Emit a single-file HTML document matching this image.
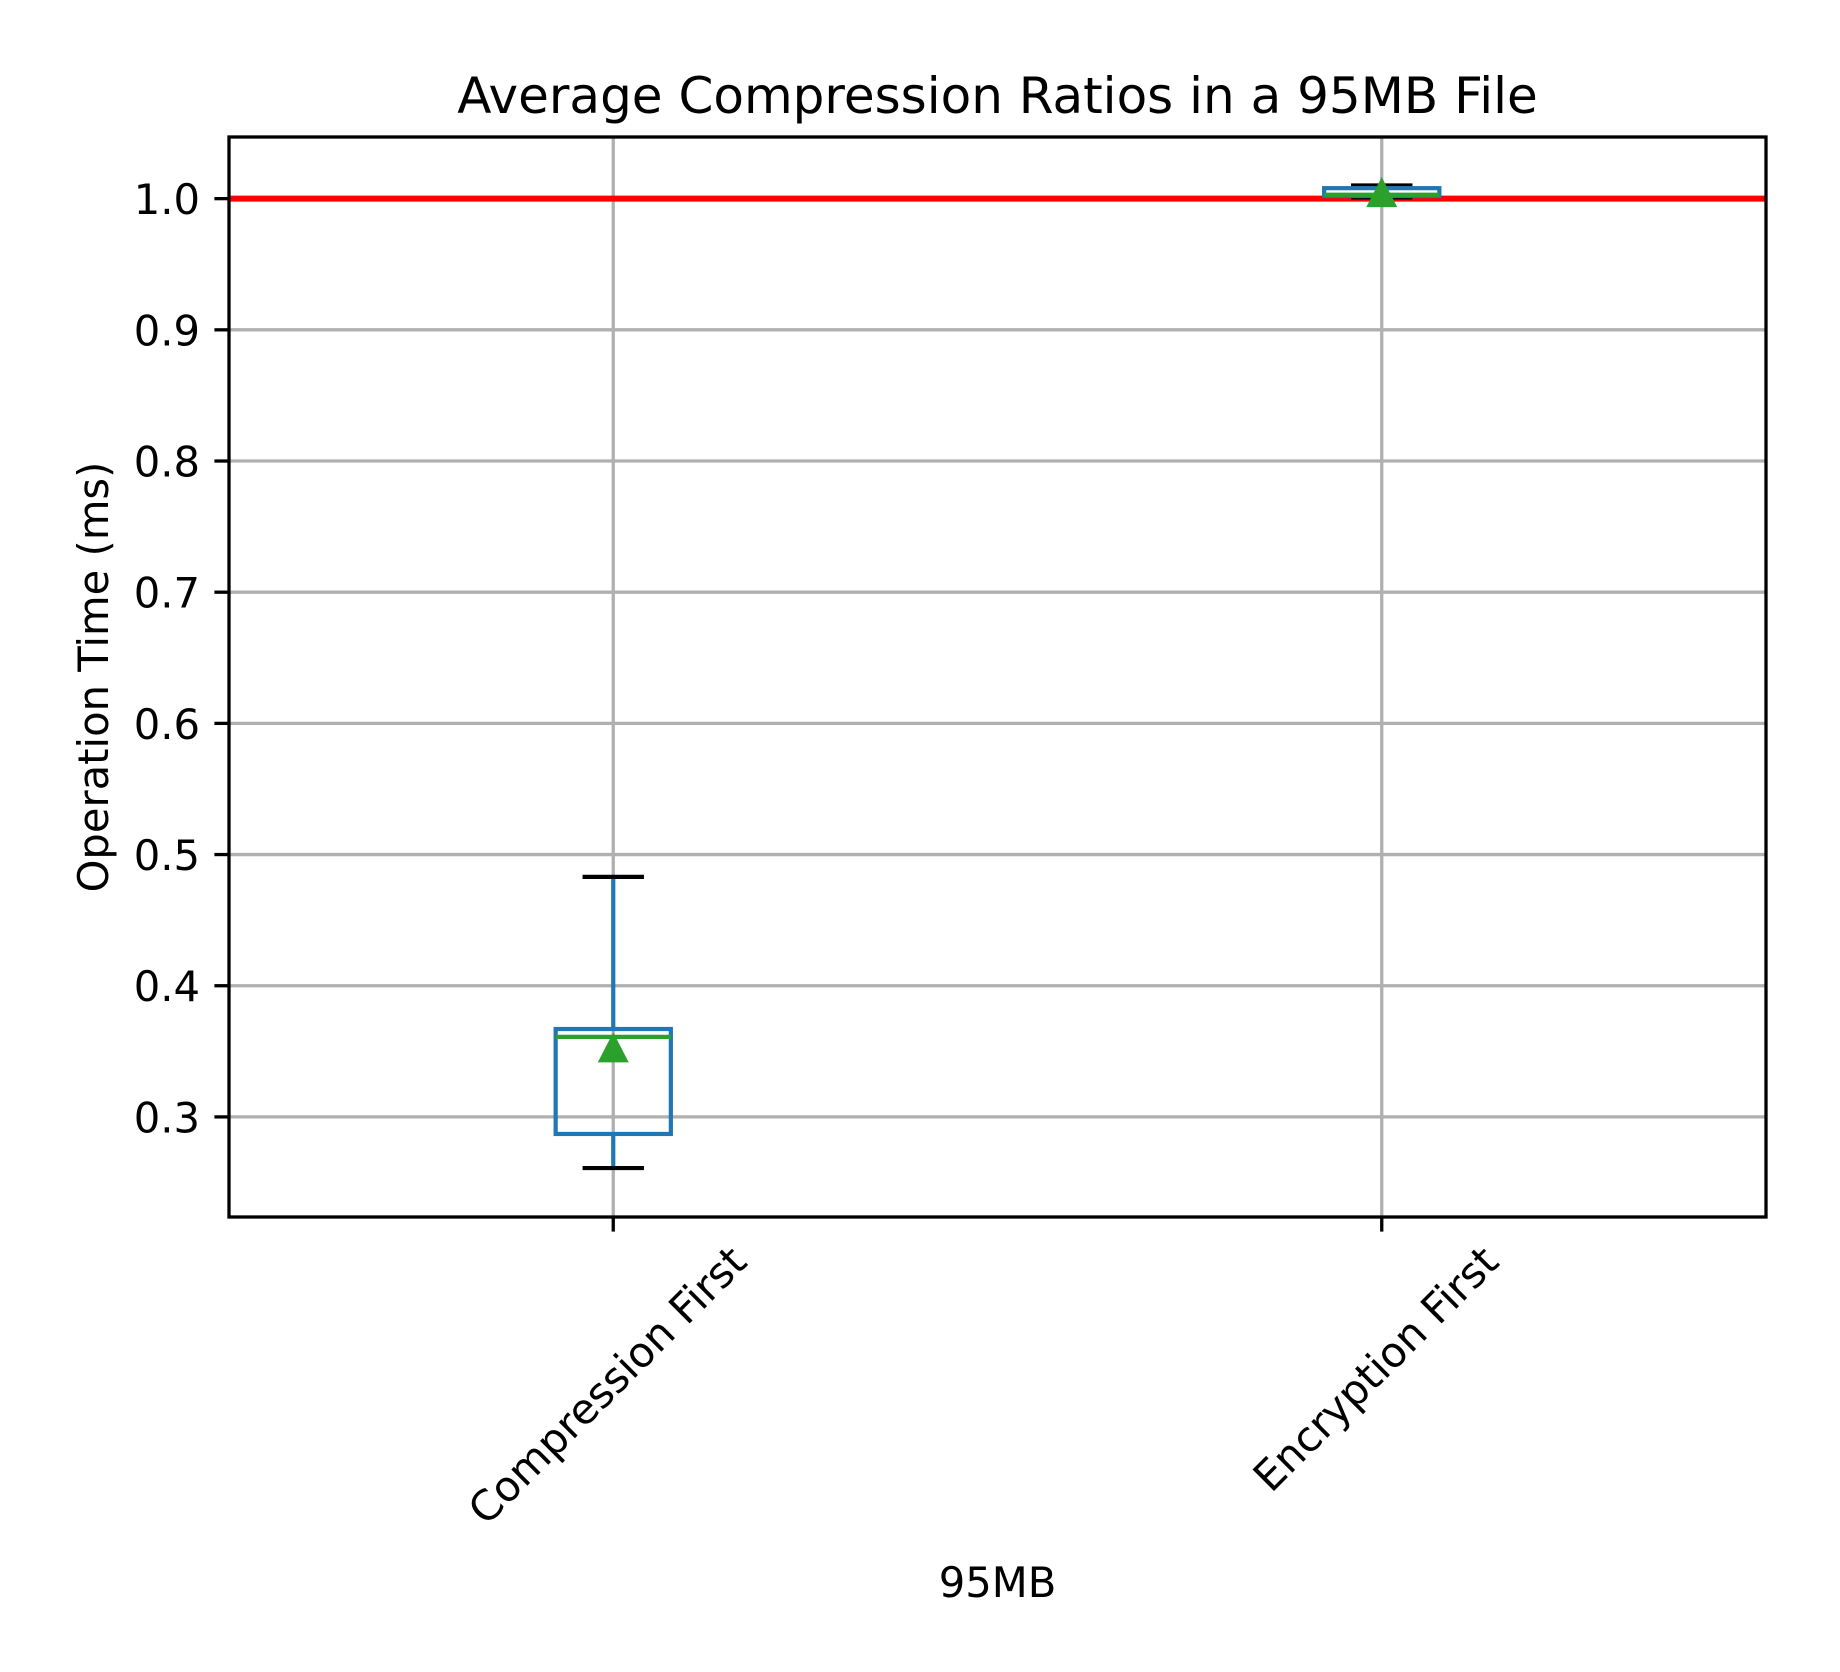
<!DOCTYPE html>
<html><head><meta charset="utf-8"><style>
html,body{margin:0;padding:0;background:#fff}
svg{display:block}
text{font-family:"DejaVu Sans","Liberation Sans",sans-serif;fill:#000}
</style></head><body>
<svg id="chart" width="1840" height="1672" viewBox="0 0 1840 1672" xmlns="http://www.w3.org/2000/svg">
<rect width="1840" height="1672" fill="#fff"/>
<g id="grid"></g>
<g id="marks"></g>
<rect x="229" y="137" width="1537" height="1080" fill="none" stroke="#000" stroke-width="3.3"/>
<g id="axes"></g>
<text x="997.5" y="113" font-size="50" text-anchor="middle">Average Compression Ratios in a 95MB File</text>
<text x="997.5" y="1597" font-size="41.7" text-anchor="middle">95MB</text>
<text transform="translate(108,677) rotate(-90)" font-size="41.7" text-anchor="middle">Operation Time (ms)</text>
</svg>
<script>
const categories = ["Compression First", "Encryption First"];
const whiskerLow = [0.261, 1.001];
const q1 = [0.287, 1.002];
const medians = [0.361, 1.003];
const q3 = [0.367, 1.008];
const whiskerHigh = [0.483, 1.010];
const means = [0.353, 1.005];
const yTicks = [0.3, 0.4, 0.5, 0.6, 0.7, 0.8, 0.9, 1.0];
const yTickLabels = ["0.3", "0.4", "0.5", "0.6", "0.7", "0.8", "0.9", "1.0"];
const refLine = 1.0;

const NS = "http://www.w3.org/2000/svg";
const L = 229, R = 1766, T = 137, B = 1217;
const yMin = 0.2237, yMax = 1.047;
function yS(v) { return B - (v - yMin) / (yMax - yMin) * (B - T); }
function xS(i) { return L + (i + 0.5) / categories.length * (R - L); }
function mk(tag, attrs, parent) {
  const e = document.createElementNS(NS, tag);
  for (const k in attrs) e.setAttribute(k, attrs[k]);
  parent.appendChild(e);
  return e;
}
const grid = document.getElementById("grid");
const marks = document.getElementById("marks");
const axes = document.getElementById("axes");

yTicks.forEach((v, i) => {
  const y = yS(v);
  const g = mk("line", {x1: L, x2: R, y1: y, y2: y, stroke: "#b0b0b0", "stroke-width": 3.3}, grid);
  
  
  const t = mk("line", {x1: L - 14.6, x2: L, y1: y, y2: y, stroke: "#000", "stroke-width": 3.3}, axes);
  
  
  const lb = mk("text", {x: L - 29, y: y + 15.5, "font-size": 41.7, "text-anchor": "end"}, axes);
  lb.textContent = yTickLabels[i];
  
  
});
categories.forEach((c, i) => {
  const x = xS(i);
  const g = mk("line", {x1: x, x2: x, y1: T, y2: B, stroke: "#b0b0b0", "stroke-width": 3.3}, grid);
  
  
  const t = mk("line", {x1: x, x2: x, y1: B, y2: B + 14.6, stroke: "#000", "stroke-width": 3.3}, axes);
  
  
  const lb = mk("text", {x: 0, y: 0, "font-size": 41.7, "text-anchor": "middle", "dominant-baseline": "central"}, axes);
  lb.textContent = c;
  
  
  const len = lb.getComputedTextLength();
  const cy = 1256 + (len + 48) * 0.7071 / 2 - 19;
  lb.setAttribute("transform", `translate(${x - 6},${cy}) rotate(-45)`);
});

const ref = mk("line", {x1: L, x2: R, y1: yS(refLine), y2: yS(refLine), stroke: "#ff0000", "stroke-width": 6}, marks);



categories.forEach((c, i) => {
  const x = xS(i);
  const bw = 57.6, cw = 30.7;
  const w1 = mk("line", {x1: x, x2: x, y1: yS(q3[i]), y2: yS(whiskerHigh[i]), stroke: "#1f77b4", "stroke-width": 4.2}, marks);
  
  
  const w2 = mk("line", {x1: x, x2: x, y1: yS(q1[i]), y2: yS(whiskerLow[i]), stroke: "#1f77b4", "stroke-width": 4.2}, marks);
  
  
  const c1 = mk("line", {x1: x - cw, x2: x + cw, y1: yS(whiskerHigh[i]), y2: yS(whiskerHigh[i]), stroke: "#000", "stroke-width": 4.2}, marks);
  
  
  const c2 = mk("line", {x1: x - cw, x2: x + cw, y1: yS(whiskerLow[i]), y2: yS(whiskerLow[i]), stroke: "#000", "stroke-width": 4.2}, marks);
  
  
  const bx = mk("rect", {x: x - bw, y: yS(q3[i]), width: 2 * bw, height: yS(q1[i]) - yS(q3[i]), fill: "none", stroke: "#1f77b4", "stroke-width": 4.2}, marks);
  
  
  const md = mk("line", {x1: x - bw, x2: x + bw, y1: yS(medians[i]), y2: yS(medians[i]), stroke: "#2ca02c", "stroke-width": 4.2}, marks);
  
  
  const my = yS(means[i]);
  const tri = mk("polygon", {points: `${x},${my - 15} ${x - 15.5},${my + 15} ${x + 15.5},${my + 15}`, fill: "#2ca02c"}, marks);
  
  
});
</script>
</body></html>
